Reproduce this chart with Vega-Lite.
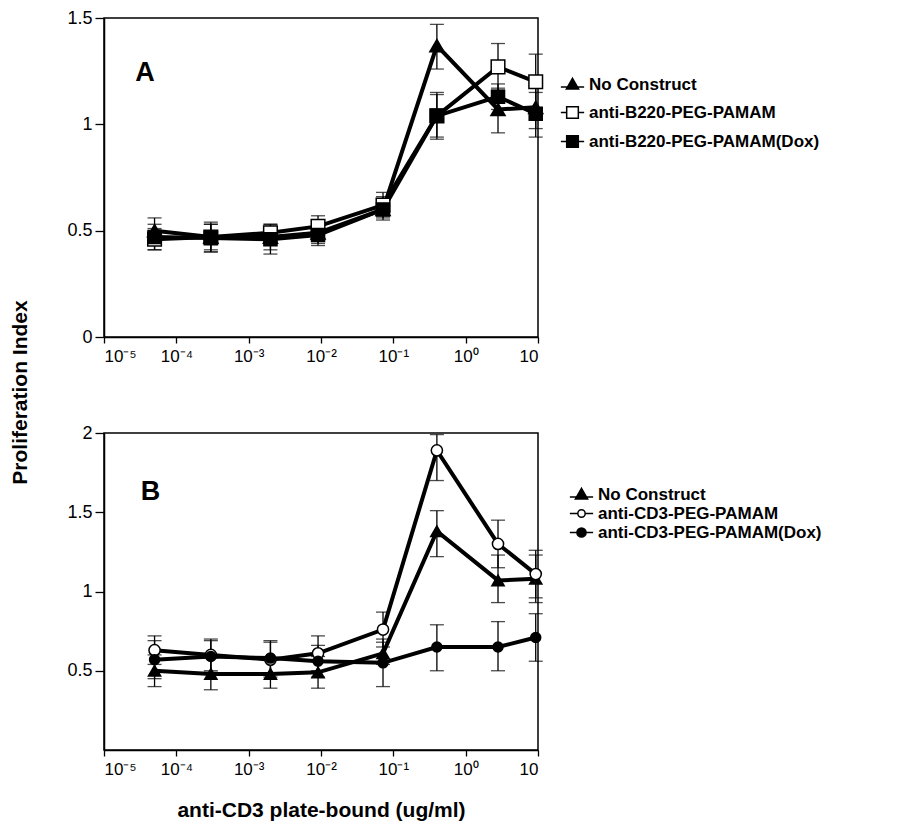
{
  "$schema": "https://vega.github.io/schema/vega-lite/v6.json",
  "padding": {"left": 8, "top": 8, "right": 0, "bottom": 0},
  "background": "white",
  "config": {
    "font": "Liberation Sans",
    "view": {"stroke": "black", "strokeWidth": 1.5},
    "axis": {"grid": false, "domainColor": "black", "domainWidth": 1.5, "tickColor": "black", "tickWidth": 1.3, "tickSize": 6, "labelColor": "black", "labelFontSize": 17, "titleColor": "black", "labelFont": "Liberation Sans"},
    "axisY": {"tickSize": 9, "labelFontSize": 18, "labelPadding": 3},
    "legend": {"labelFontSize": 17, "labelFontWeight": "bold", "labelColor": "black", "labelFont": "Liberation Sans", "labelLimit": 400, "symbolStrokeWidth": 1.5, "symbolSize": 150, "labelOffset": 8}
  },
  "datasets": {
    "A": [
      {"series": "No Construct", "x": 0.00005, "y": 0.50, "lo": 0.44, "hi": 0.56},
      {"series": "No Construct", "x": 0.0003, "y": 0.47, "lo": 0.40, "hi": 0.54},
      {"series": "No Construct", "x": 0.002, "y": 0.47, "lo": 0.41, "hi": 0.53},
      {"series": "No Construct", "x": 0.0091, "y": 0.49, "lo": 0.44, "hi": 0.54},
      {"series": "No Construct", "x": 0.072, "y": 0.60, "lo": 0.55, "hi": 0.65},
      {"series": "No Construct", "x": 0.4, "y": 1.37, "lo": 1.26, "hi": 1.47},
      {"series": "No Construct", "x": 2.8, "y": 1.07, "lo": 0.96, "hi": 1.17},
      {"series": "No Construct", "x": 9.3, "y": 1.08, "lo": 0.98, "hi": 1.18},
      {"series": "anti-B220-PEG-PAMAM", "x": 0.00005, "y": 0.46, "lo": 0.41, "hi": 0.51},
      {"series": "anti-B220-PEG-PAMAM", "x": 0.0003, "y": 0.47, "lo": 0.41, "hi": 0.53},
      {"series": "anti-B220-PEG-PAMAM", "x": 0.002, "y": 0.49, "lo": 0.44, "hi": 0.53},
      {"series": "anti-B220-PEG-PAMAM", "x": 0.0091, "y": 0.52, "lo": 0.47, "hi": 0.57},
      {"series": "anti-B220-PEG-PAMAM", "x": 0.072, "y": 0.62, "lo": 0.57, "hi": 0.68},
      {"series": "anti-B220-PEG-PAMAM", "x": 0.4, "y": 1.04, "lo": 0.93, "hi": 1.15},
      {"series": "anti-B220-PEG-PAMAM", "x": 2.8, "y": 1.27, "lo": 1.16, "hi": 1.38},
      {"series": "anti-B220-PEG-PAMAM", "x": 9.3, "y": 1.2, "lo": 1.07, "hi": 1.33},
      {"series": "anti-B220-PEG-PAMAM(Dox)", "x": 0.00005, "y": 0.47, "lo": 0.41, "hi": 0.53},
      {"series": "anti-B220-PEG-PAMAM(Dox)", "x": 0.0003, "y": 0.465, "lo": 0.40, "hi": 0.53},
      {"series": "anti-B220-PEG-PAMAM(Dox)", "x": 0.002, "y": 0.46, "lo": 0.39, "hi": 0.52},
      {"series": "anti-B220-PEG-PAMAM(Dox)", "x": 0.0091, "y": 0.48, "lo": 0.43, "hi": 0.53},
      {"series": "anti-B220-PEG-PAMAM(Dox)", "x": 0.072, "y": 0.60, "lo": 0.56, "hi": 0.66},
      {"series": "anti-B220-PEG-PAMAM(Dox)", "x": 0.4, "y": 1.04, "lo": 0.94, "hi": 1.14},
      {"series": "anti-B220-PEG-PAMAM(Dox)", "x": 2.8, "y": 1.13, "lo": 1.07, "hi": 1.19},
      {"series": "anti-B220-PEG-PAMAM(Dox)", "x": 9.3, "y": 1.05, "lo": 0.94, "hi": 1.15}
    ],
    "B": [
      {"series": "No Construct", "x": 0.00005, "y": 0.50, "lo": 0.40, "hi": 0.60},
      {"series": "No Construct", "x": 0.0003, "y": 0.48, "lo": 0.38, "hi": 0.58},
      {"series": "No Construct", "x": 0.002, "y": 0.48, "lo": 0.39, "hi": 0.57},
      {"series": "No Construct", "x": 0.0091, "y": 0.49, "lo": 0.39, "hi": 0.59},
      {"series": "No Construct", "x": 0.072, "y": 0.61, "lo": 0.54, "hi": 0.68},
      {"series": "No Construct", "x": 0.4, "y": 1.38, "lo": 1.22, "hi": 1.51},
      {"series": "No Construct", "x": 2.8, "y": 1.07, "lo": 0.93, "hi": 1.23},
      {"series": "No Construct", "x": 9.3, "y": 1.08, "lo": 0.93, "hi": 1.23},
      {"series": "anti-CD3-PEG-PAMAM", "x": 0.00005, "y": 0.63, "lo": 0.54, "hi": 0.72},
      {"series": "anti-CD3-PEG-PAMAM", "x": 0.0003, "y": 0.60, "lo": 0.50, "hi": 0.70},
      {"series": "anti-CD3-PEG-PAMAM", "x": 0.002, "y": 0.57, "lo": 0.46, "hi": 0.69},
      {"series": "anti-CD3-PEG-PAMAM", "x": 0.0091, "y": 0.61, "lo": 0.50, "hi": 0.72},
      {"series": "anti-CD3-PEG-PAMAM", "x": 0.072, "y": 0.76, "lo": 0.65, "hi": 0.87},
      {"series": "anti-CD3-PEG-PAMAM", "x": 0.4, "y": 1.89, "lo": 1.70, "hi": 1.99},
      {"series": "anti-CD3-PEG-PAMAM", "x": 2.8, "y": 1.30, "lo": 1.15, "hi": 1.45},
      {"series": "anti-CD3-PEG-PAMAM", "x": 9.3, "y": 1.11, "lo": 0.96, "hi": 1.26},
      {"series": "anti-CD3-PEG-PAMAM(Dox)", "x": 0.00005, "y": 0.57, "lo": 0.45, "hi": 0.69},
      {"series": "anti-CD3-PEG-PAMAM(Dox)", "x": 0.0003, "y": 0.59, "lo": 0.49, "hi": 0.69},
      {"series": "anti-CD3-PEG-PAMAM(Dox)", "x": 0.002, "y": 0.58, "lo": 0.48, "hi": 0.68},
      {"series": "anti-CD3-PEG-PAMAM(Dox)", "x": 0.0091, "y": 0.56, "lo": 0.46, "hi": 0.66},
      {"series": "anti-CD3-PEG-PAMAM(Dox)", "x": 0.072, "y": 0.55, "lo": 0.40, "hi": 0.70},
      {"series": "anti-CD3-PEG-PAMAM(Dox)", "x": 0.4, "y": 0.65, "lo": 0.50, "hi": 0.79},
      {"series": "anti-CD3-PEG-PAMAM(Dox)", "x": 2.8, "y": 0.65, "lo": 0.50, "hi": 0.81},
      {"series": "anti-CD3-PEG-PAMAM(Dox)", "x": 9.3, "y": 0.71, "lo": 0.56, "hi": 0.86}
    ]
  },
  "bounds": "flush",
  "spacing": 96,
  "resolve": {"scale": {"shape": "independent", "fill": "independent", "stroke": "independent", "x": "independent", "y": "independent"}, "legend": {"shape": "independent", "fill": "independent", "stroke": "independent"}},
  "vconcat": [
    {
      "width": 434,
      "height": 319,
      "data": {"name": "A"},
      "resolve": {"scale": {"shape": "independent", "fill": "independent", "stroke": "independent"}, "legend": {"shape": "independent", "fill": "independent", "stroke": "independent"}},
      "encoding": {
        "x": {"field": "x", "type": "quantitative", "scale": {"type": "log", "domain": [0.00001, 10], "nice": false},
          "axis": {"values": [0.00001, 0.0001, 0.001, 0.01, 0.1, 1, 10], "title": null, "labelPadding": 5,
            "labelExpr": "datum.value > 5 ? '10' : datum.value > 0.5 ? '10⁰' : datum.value > 0.05 ? '10⁻¹' : datum.value > 0.005 ? '10⁻²' : datum.value > 0.0005 ? '10⁻³' : datum.value > 0.00005 ? '10⁻⁴' : '10⁻⁵'"}}
      },
      "layer": [
        {
          "mark": {"type": "errorbar", "color": "black", "thickness": 1.3, "ticks": {"size": 14, "thickness": 1.3, "color": "black"}},
          "encoding": {
            "y": {"field": "lo", "type": "quantitative", "scale": {"domain": [0, 1.5], "nice": false},
              "axis": {"values": [0, 0.5, 1, 1.5], "format": "~g", "title": "Proliferation Index", "titleFontSize": 21, "titleFontWeight": "bold", "titleX": -74, "titleY": 374}},
            "y2": {"field": "hi"},
            "detail": {"field": "series"}
          }
        },
        {
          "mark": {"type": "line", "color": "black", "strokeWidth": 4},
          "encoding": {"y": {"field": "y", "type": "quantitative"}, "detail": {"field": "series"}}
        },
        {
          "mark": {"type": "point", "filled": true, "stroke": "black", "strokeWidth": 1.5, "opacity": 1, "fillOpacity": 1},
          "encoding": {
            "y": {"field": "y", "type": "quantitative"},
            "shape": {"field": "series", "type": "nominal", "legend": null, "scale": {"domain": ["No Construct", "anti-B220-PEG-PAMAM", "anti-B220-PEG-PAMAM(Dox)"], "range": ["triangle-up", "square", "square"]}},
            "fill": {"field": "series", "type": "nominal", "legend": null, "scale": {"domain": ["No Construct", "anti-B220-PEG-PAMAM", "anti-B220-PEG-PAMAM(Dox)"], "range": ["black", "white", "black"]}},
            "size": {"field": "series", "type": "nominal", "legend": null, "scale": {"domain": ["No Construct", "anti-B220-PEG-PAMAM", "anti-B220-PEG-PAMAM(Dox)"], "range": [200, 170, 170]}}
          }
        },
        {
          "transform": [{"filter": "false"}],
          "mark": {"type": "point", "filled": true, "strokeWidth": 1.5, "opacity": 1},
          "encoding": {
            "y": {"field": "y", "type": "quantitative"},
            "shape": {"field": "series", "type": "nominal", "scale": {"domain": ["No Construct", "anti-B220-PEG-PAMAM", "anti-B220-PEG-PAMAM(Dox)"], "range": ["M-1.9,0.4H1.9M0,-1L1,0.75H-1Z", "M-1.9,0H-0.95M0.95,0H1.9M-0.95,-0.95H0.95V0.95H-0.95Z", "M-1.9,0H1.9M-0.95,-0.95H0.95V0.95H-0.95Z"]},
              "legend": {"title": null, "orient": "none", "legendX": 460, "legendY": 58, "rowPadding": 10}},
            "fill": {"field": "series", "type": "nominal", "scale": {"domain": ["No Construct", "anti-B220-PEG-PAMAM", "anti-B220-PEG-PAMAM(Dox)"], "range": ["black", "white", "black"]},
              "legend": {"title": null, "orient": "none", "legendX": 460, "legendY": 58, "rowPadding": 10}},
            "stroke": {"field": "series", "type": "nominal", "scale": {"domain": ["No Construct", "anti-B220-PEG-PAMAM", "anti-B220-PEG-PAMAM(Dox)"], "range": ["black", "black", "black"]},
              "legend": {"title": null, "orient": "none", "legendX": 460, "legendY": 58, "rowPadding": 10}}
          }
        },
        {
          "data": {"values": [{"label": "A", "x": 0.000037, "y": 1.24}]},
          "mark": {"type": "text", "fontSize": 27, "fontWeight": "bold", "color": "black", "baseline": "middle", "align": "center"},
          "encoding": {"y": {"field": "y", "type": "quantitative"}, "text": {"field": "label"}}
        }
      ]
    },
    {
      "width": 434,
      "height": 317,
      "data": {"name": "B"},
      "resolve": {"scale": {"shape": "independent", "fill": "independent", "stroke": "independent", "size": "independent"}, "legend": {"shape": "independent", "fill": "independent", "stroke": "independent"}},
      "encoding": {
        "x": {"field": "x", "type": "quantitative", "scale": {"type": "log", "domain": [0.00001, 10], "nice": false},
          "axis": {"values": [0.00001, 0.0001, 0.001, 0.01, 0.1, 1, 10], "title": "anti-CD3 plate-bound (ug/ml)", "titleFontSize": 21, "titleFontWeight": "bold", "titlePadding": 22, "labelPadding": 5,
            "labelExpr": "datum.value > 5 ? '10' : datum.value > 0.5 ? '10⁰' : datum.value > 0.05 ? '10⁻¹' : datum.value > 0.005 ? '10⁻²' : datum.value > 0.0005 ? '10⁻³' : datum.value > 0.00005 ? '10⁻⁴' : '10⁻⁵'"}}
      },
      "layer": [
        {
          "mark": {"type": "errorbar", "color": "black", "thickness": 1.3, "ticks": {"size": 14, "thickness": 1.3, "color": "black"}},
          "encoding": {
            "y": {"field": "lo", "type": "quantitative", "scale": {"domain": [0, 2], "nice": false},
              "axis": {"values": [0.5, 1, 1.5, 2], "format": "~g", "title": null}},
            "y2": {"field": "hi"},
            "detail": {"field": "series"}
          }
        },
        {
          "mark": {"type": "line", "color": "black", "strokeWidth": 4},
          "encoding": {"y": {"field": "y", "type": "quantitative"}, "detail": {"field": "series"}}
        },
        {
          "mark": {"type": "point", "filled": true, "stroke": "black", "strokeWidth": 1.5, "opacity": 1, "fillOpacity": 1},
          "encoding": {
            "y": {"field": "y", "type": "quantitative"},
            "shape": {"field": "series", "type": "nominal", "legend": null, "scale": {"domain": ["No Construct", "anti-CD3-PEG-PAMAM", "anti-CD3-PEG-PAMAM(Dox)"], "range": ["triangle-up", "circle", "circle"]}},
            "fill": {"field": "series", "type": "nominal", "legend": null, "scale": {"domain": ["No Construct", "anti-CD3-PEG-PAMAM", "anti-CD3-PEG-PAMAM(Dox)"], "range": ["black", "white", "black"]}},
            "size": {"field": "series", "type": "nominal", "legend": null, "scale": {"domain": ["No Construct", "anti-CD3-PEG-PAMAM", "anti-CD3-PEG-PAMAM(Dox)"], "range": [150, 100, 100]}}
          }
        },
        {
          "transform": [{"filter": "false"}],
          "mark": {"type": "point", "filled": true, "strokeWidth": 1.5, "opacity": 1},
          "encoding": {
            "y": {"field": "y", "type": "quantitative"},
            "shape": {"field": "series", "type": "nominal", "scale": {"domain": ["No Construct", "anti-CD3-PEG-PAMAM", "anti-CD3-PEG-PAMAM(Dox)"], "range": ["M-1.9,0.4H1.9M0,-1L1,0.75H-1Z", "M-1.9,0H-0.6M0.6,0H1.9M0.6,0A0.6,0.6,0,1,1,-0.6,0A0.6,0.6,0,1,1,0.6,0Z", "M-1.9,0H1.9M0.75,0A0.75,0.75,0,1,1,-0.75,0A0.75,0.75,0,1,1,0.75,0Z"]},
              "legend": {"title": null, "orient": "none", "legendX": 469, "legendY": 53, "rowPadding": 1}},
            "fill": {"field": "series", "type": "nominal", "scale": {"domain": ["No Construct", "anti-CD3-PEG-PAMAM", "anti-CD3-PEG-PAMAM(Dox)"], "range": ["black", "white", "black"]},
              "legend": {"title": null, "orient": "none", "legendX": 469, "legendY": 53, "rowPadding": 1}},
            "stroke": {"field": "series", "type": "nominal", "scale": {"domain": ["No Construct", "anti-CD3-PEG-PAMAM", "anti-CD3-PEG-PAMAM(Dox)"], "range": ["black", "black", "black"]},
              "legend": {"title": null, "orient": "none", "legendX": 469, "legendY": 53, "rowPadding": 1}}
          }
        },
        {
          "data": {"values": [{"label": "B", "x": 0.000044, "y": 1.63}]},
          "mark": {"type": "text", "fontSize": 27, "fontWeight": "bold", "color": "black", "baseline": "middle", "align": "center"},
          "encoding": {"y": {"field": "y", "type": "quantitative"}, "text": {"field": "label"}}
        }
      ]
    }
  ]
}
